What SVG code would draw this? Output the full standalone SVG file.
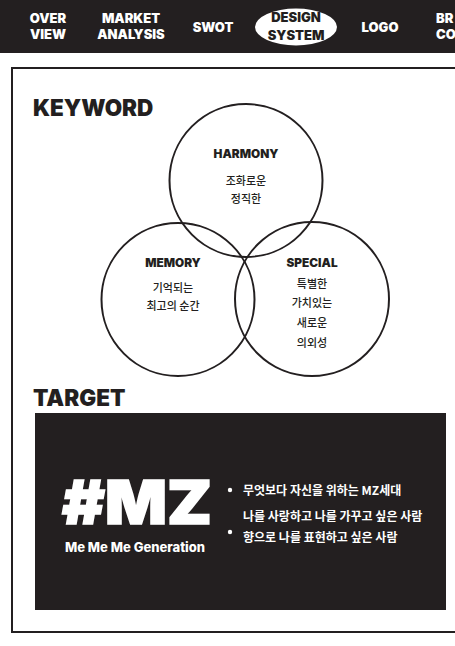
<svg xmlns="http://www.w3.org/2000/svg" width="455" height="646" viewBox="0 0 455 646">
<style>
.nav{font-family:Inter,"DejaVu Sans",sans-serif;font-weight:900;font-size:13px;fill:#fff;text-anchor:middle}
.navd{fill:#231f20}
.h{font-family:Inter,"DejaVu Sans",sans-serif;font-weight:900;font-size:22.5px;fill:#231f20}
.lbl{font-family:Inter,"DejaVu Sans",sans-serif;font-weight:900;font-size:11.8px;fill:#231f20;text-anchor:middle}
.kr{font-family:"Noto Sans CJK KR",sans-serif;font-weight:500;font-size:11px;fill:#231f20;text-anchor:middle}
.circ{fill:none;stroke:#231f20;stroke-width:2}
.wk{font-family:"Noto Sans CJK KR",sans-serif;font-weight:700;font-size:12px;fill:#fff}
</style>
<rect width="455" height="646" fill="#fff"/>
<g id="navbar">
<rect x="0" y="0" width="455" height="53" fill="#231f20"/>
<text class="nav" x="48" y="23">OVER</text>
<text class="nav" x="48" y="39">VIEW</text>
<text class="nav" x="131" y="23" font-size="11.5">MARKET</text>
<text class="nav" x="131" y="39" font-size="11.5">ANALYSIS</text>
<text class="nav" x="213" y="32">SWOT</text>
<ellipse cx="296" cy="27" rx="41" ry="18.5" fill="#fff"/>
<text class="nav navd" x="296" y="22">DESIGN</text>
<text class="nav navd" x="296" y="40">SYSTEM</text>
<text class="nav" x="380" y="32">LOGO</text>
<text class="nav" x="436" y="23" font-size="12" style="text-anchor:start">BR</text>
<text class="nav" x="436" y="39" font-size="12" style="text-anchor:start">CO</text>
</g>
<rect x="12" y="68" width="460" height="564" fill="none" stroke="#231f20" stroke-width="2"/>
<text class="h" x="33" y="116">KEYWORD</text>
<g id="harmony">
<circle class="circ" cx="246" cy="180.5" r="76.5"/>
<text class="lbl" x="246" y="158">HARMONY</text>
<text class="kr" x="246" y="185">조화로운</text>
<text class="kr" x="246" y="203">정직한</text>
</g>
<g id="memory">
<circle class="circ" cx="178" cy="299.5" r="76.5"/>
<text class="lbl" x="173" y="267">MEMORY</text>
<text class="kr" x="173" y="292">기억되는</text>
<text class="kr" x="173" y="310">최고의 순간</text>
</g>
<g id="special">
<circle class="circ" cx="312" cy="299" r="77"/>
<text class="lbl" x="312" y="267">SPECIAL</text>
<text class="kr" x="312" y="288">특별한</text>
<text class="kr" x="312" y="307">가치있는</text>
<text class="kr" x="312" y="327">새로운</text>
<text class="kr" x="312" y="347">의외성</text>
</g>
<text class="h" x="33" y="406">TARGET</text>
<g id="target">
<rect x="35" y="413" width="411" height="197" fill="#231f20"/>
<text x="137" y="524" font-family="Inter,'DejaVu Sans',sans-serif" font-weight="900" font-size="60" fill="#fff" text-anchor="middle" textLength="150" lengthAdjust="spacingAndGlyphs" stroke="#fff" stroke-width="1.5">#MZ</text>
<text x="135" y="552" font-family="Inter,'DejaVu Sans',sans-serif" font-weight="800" font-size="13" fill="#fff" text-anchor="middle">Me Me Me Generation</text>
<circle cx="230" cy="490" r="2.2" fill="#fff"/>
<circle cx="230" cy="532" r="2.2" fill="#fff"/>
<text class="wk" x="243" y="495">무엇보다 자신을 위하는 MZ세대</text>
<text class="wk" x="243" y="521">나를 사랑하고 나를 가꾸고 싶은 사람</text>
<text class="wk" x="243" y="542">향으로 나를 표현하고 싶은 사람</text>
</g>
</svg>
